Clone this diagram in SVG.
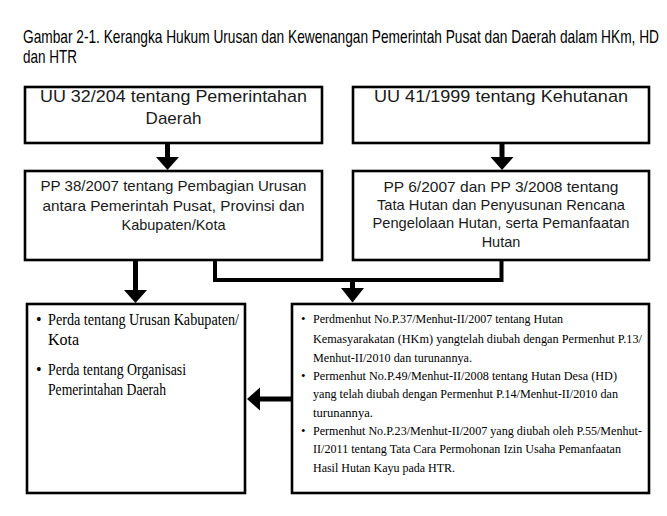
<svg xmlns="http://www.w3.org/2000/svg" width="667" height="516" viewBox="0 0 667 516">
<style>
.box{fill:#fff;stroke:#000;stroke-width:2.6}
.t{font-family:"Liberation Sans",Arial,sans-serif;fill:#1a1a1a}
.s{font-family:"Liberation Serif","Times New Roman",serif;fill:#000}
.ttl{font-family:"Liberation Sans",Arial,sans-serif;font-size:18.5px;fill:#000}
.p{font-family:"Liberation Serif","Times New Roman",serif;fill:#000;font-size:12.8px}
.c{fill:none;stroke:#000;stroke-width:5}
.c4{fill:none;stroke:#000;stroke-width:4}
</style>
<rect width="667" height="516" fill="#fff"/>
<g id="title" transform="scale(0.75 1)">
<text class="ttl" x="30.67" y="43" textLength="848" lengthAdjust="spacingAndGlyphs">Gambar 2-1. Kerangka Hukum Urusan dan Kewenangan Pemerintah Pusat dan Daerah dalam HKm, HD</text>
<text class="ttl" x="30.67" y="63" textLength="72" lengthAdjust="spacingAndGlyphs">dan HTR</text>
</g>
<g id="connectors">
<line class="c" x1="167.5" y1="143" x2="167.5" y2="157"/>
<path d="M156,157 L179,157 L167.5,170 Z"/>
<line class="c" x1="502" y1="143" x2="502" y2="157"/>
<path d="M490.5,157 L513.5,157 L502,170 Z"/>
<line class="c" x1="135.5" y1="260" x2="135.5" y2="290"/>
<path d="M124,290 L147,290 L135.5,303 Z"/>
<polyline class="c4" points="501.5,260 501.5,280 215,280 215,260"/>
<line class="c" x1="352.5" y1="280" x2="352.5" y2="288"/>
<path d="M341,288 L364,288 L352.5,302.5 Z"/>
<line class="c" x1="292" y1="399" x2="260" y2="399"/>
<path d="M260,387.5 L260,410.5 L247,399 Z"/>
</g>
<g id="uu32">
<rect class="box" x="25" y="87" width="297" height="56"/>
<text class="t" font-size="17" x="173.5" y="102" text-anchor="middle" textLength="267" lengthAdjust="spacingAndGlyphs">UU 32/204 tentang Pemerintahan</text>
<text class="t" font-size="17" x="173.5" y="124" text-anchor="middle">Daerah</text>
</g>
<g id="uu41">
<rect class="box" x="353" y="87" width="296" height="56"/>
<text class="t" font-size="17" x="501" y="102" text-anchor="middle" textLength="254" lengthAdjust="spacingAndGlyphs">UU 41/1999 tentang Kehutanan</text>
</g>
<g id="pp38">
<rect class="box" x="25" y="171" width="297" height="89"/>
<text class="t" font-size="14.5" x="173.5" y="191" text-anchor="middle" textLength="266" lengthAdjust="spacingAndGlyphs">PP 38/2007 tentang Pembagian Urusan</text>
<text class="t" font-size="14.5" x="173.5" y="211" text-anchor="middle" textLength="262" lengthAdjust="spacingAndGlyphs">antara Pemerintah Pusat, Provinsi dan</text>
<text class="t" font-size="14.5" x="173.5" y="230" text-anchor="middle">Kabupaten/Kota</text>
</g>
<g id="pp6">
<rect class="box" x="353" y="171" width="296" height="89"/>
<text class="t" font-size="14.5" x="501" y="192" text-anchor="middle" textLength="235" lengthAdjust="spacingAndGlyphs">PP 6/2007 dan PP 3/2008 tentang</text>
<text class="t" font-size="14.5" x="501" y="210" text-anchor="middle" textLength="248" lengthAdjust="spacingAndGlyphs">Tata Hutan dan Penyusunan Rencana</text>
<text class="t" font-size="14.5" x="501" y="228" text-anchor="middle" textLength="257" lengthAdjust="spacingAndGlyphs">Pengelolaan Hutan, serta Pemanfaatan</text>
<text class="t" font-size="14.5" x="501" y="247" text-anchor="middle">Hutan</text>
</g>
<g id="perda">
<rect class="box" x="27" y="304" width="218" height="189"/>
<text class="s" font-size="16" x="36" y="325">•</text>
<text class="s" font-size="16" x="48" y="325" textLength="191" lengthAdjust="spacingAndGlyphs">Perda tentang Urusan Kabupaten/</text>
<text class="s" font-size="16" x="48" y="345">Kota</text>
<text class="s" font-size="16" x="36" y="375">•</text>
<text class="s" font-size="16" x="48" y="375" textLength="138" lengthAdjust="spacingAndGlyphs">Perda tentang Organisasi</text>
<text class="s" font-size="16" x="48" y="395" textLength="118" lengthAdjust="spacingAndGlyphs">Pemerintahan Daerah</text>
</g>
<g id="permenhut">
<rect class="box" x="292" y="304" width="357" height="189"/>
<text class="p" x="301" y="323">•</text>
<text class="p" x="313" y="323" textLength="250" lengthAdjust="spacingAndGlyphs">Perdmenhut No.P.37/Menhut-II/2007 tentang Hutan</text>
<text class="p" x="313" y="343" textLength="329" lengthAdjust="spacingAndGlyphs">Kemasyarakatan (HKm) yangtelah diubah dengan Permenhut P.13/</text>
<text class="p" x="313" y="362" textLength="159" lengthAdjust="spacingAndGlyphs">Menhut-II/2010 dan turunannya.</text>
<text class="p" x="301" y="380">•</text>
<text class="p" x="313" y="380" textLength="304" lengthAdjust="spacingAndGlyphs">Permenhut No.P.49/Menhut-II/2008 tentang Hutan Desa (HD)</text>
<text class="p" x="313" y="398" textLength="305" lengthAdjust="spacingAndGlyphs">yang telah diubah dengan Permenhut P.14/Menhut-II/2010 dan</text>
<text class="p" x="313" y="417" textLength="60" lengthAdjust="spacingAndGlyphs">turunannya.</text>
<text class="p" x="301" y="435">•</text>
<text class="p" x="313" y="435" textLength="329" lengthAdjust="spacingAndGlyphs">Permenhut No.P.23/Menhut-II/2007 yang diubah oleh P.55/Menhut-</text>
<text class="p" x="313" y="453" textLength="308" lengthAdjust="spacingAndGlyphs">II/2011 tentang Tata Cara Permohonan Izin Usaha Pemanfaatan</text>
<text class="p" x="313" y="472" textLength="142" lengthAdjust="spacingAndGlyphs">Hasil Hutan Kayu pada HTR.</text>
</g>
</svg>
